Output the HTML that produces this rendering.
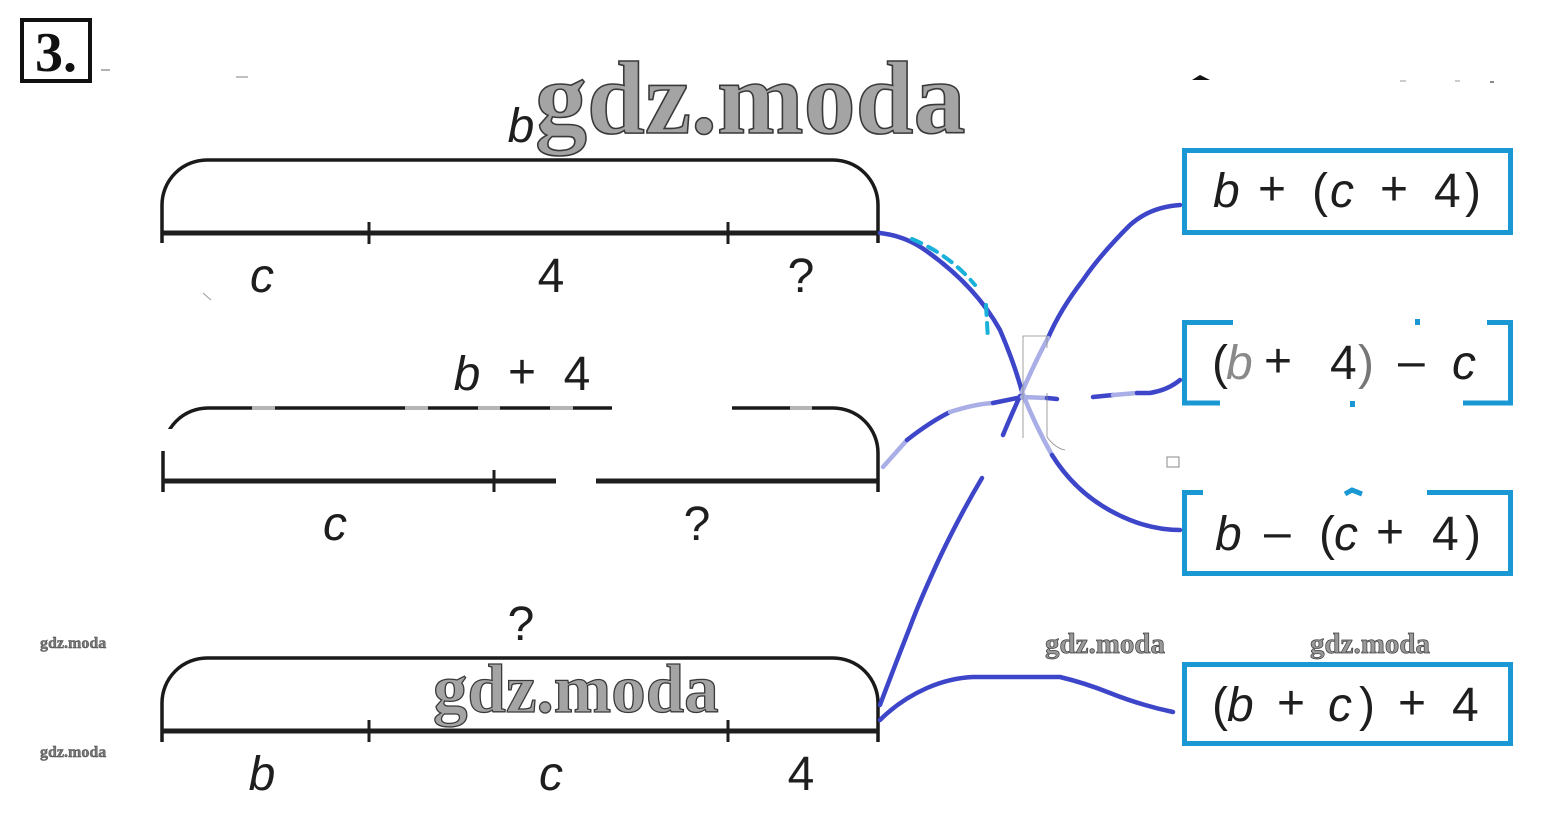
<!DOCTYPE html>
<html>
<head>
<meta charset="utf-8">
<style>
  html, body { margin: 0; padding: 0; background: #ffffff; }
  body { width: 1546px; height: 839px; overflow: hidden; }
  svg { display: block; }
  .lbl { font-family: "Liberation Sans", sans-serif; font-size: 48px; fill: #1e1e1e; }
  .it { font-style: italic; }
  .wm { font-family: "Liberation Serif", serif; font-weight: bold; fill: #a4a4a4; stroke: #3a3a3a; }
</style>
</head>
<body>
<svg width="1546" height="839" viewBox="0 0 1546 839" xmlns="http://www.w3.org/2000/svg">
  <rect x="0" y="0" width="1546" height="839" fill="#ffffff"/>

  <!-- "3." box -->
  <rect x="22" y="20" width="68" height="61" fill="none" stroke="#111" stroke-width="4"/>
  <text x="56" y="71" text-anchor="middle" font-family="Liberation Serif, serif" font-weight="bold" font-size="56" fill="#111">3.</text>

  <!-- small artifacts -->
  <line x1="101" y1="70" x2="110" y2="70" stroke="#999" stroke-width="1.5"/>
  <line x1="236" y1="77" x2="248" y2="77" stroke="#aaa" stroke-width="1.5"/>
  <path d="M1192,80 L1200,75 L1210,80 Z" fill="#111"/>
  <line x1="1400" y1="81" x2="1406" y2="81" stroke="#bbb" stroke-width="1.5"/>
  <line x1="1455" y1="81" x2="1460" y2="81" stroke="#bbb" stroke-width="1.5"/>
  <line x1="1490" y1="82" x2="1494" y2="82" stroke="#888" stroke-width="2"/>
  <line x1="203" y1="293" x2="211" y2="300" stroke="#999" stroke-width="1"/>
  <rect x="1167" y="457" width="12" height="10" fill="none" stroke="#888" stroke-width="1"/>

  <!-- ============ TOP DIAGRAM ============ -->
  <path d="M162,243 L162,205 A45,45 0 0 1 207,160 L833,160 A45,45 0 0 1 878,205 L878,243" fill="none" stroke="#1a1a1a" stroke-width="3.5"/>
  <line x1="162" y1="233" x2="878" y2="233" stroke="#1e1e1e" stroke-width="5"/>
  <line x1="369" y1="222" x2="369" y2="244" stroke="#1e1e1e" stroke-width="3"/>
  <line x1="728" y1="222" x2="728" y2="244" stroke="#1e1e1e" stroke-width="3"/>
  <text class="lbl it" x="521" y="142" text-anchor="middle">b</text>
  <text class="lbl it" x="262" y="292" text-anchor="middle">c</text>
  <text class="lbl" x="551" y="292" text-anchor="middle">4</text>
  <text class="lbl" x="801" y="292" text-anchor="middle">?</text>

  <!-- ============ MIDDLE DIAGRAM ============ -->
  <path d="M163,492 L163,453 A45,45 0 0 1 208,408 L833,408 A45,45 0 0 1 878,453 L878,492" fill="none" stroke="#1a1a1a" stroke-width="3.5"/>
  <line x1="162" y1="481" x2="878" y2="481" stroke="#1e1e1e" stroke-width="5"/>
  <line x1="494" y1="470" x2="494" y2="492" stroke="#1e1e1e" stroke-width="3"/>
  <!-- erasures -->
  <rect x="150" y="429" width="24" height="22" fill="#fff"/>
  <rect x="612" y="403" width="120" height="10" fill="#fff"/>
  <rect x="556" y="476" width="40" height="11" fill="#fff"/>
  <!-- greyed segments -->
  <line x1="252" y1="408" x2="275" y2="408" stroke="#b5b5b5" stroke-width="4"/>
  <line x1="405" y1="408" x2="428" y2="408" stroke="#b5b5b5" stroke-width="4"/>
  <line x1="478" y1="408" x2="500" y2="408" stroke="#b5b5b5" stroke-width="4"/>
  <line x1="550" y1="408" x2="573" y2="408" stroke="#b5b5b5" stroke-width="4"/>
  <line x1="790" y1="408" x2="812" y2="408" stroke="#b5b5b5" stroke-width="4"/>
  <text class="lbl it" x="467" y="390" text-anchor="middle">b</text>
  <text class="lbl" x="522" y="388" text-anchor="middle">+</text>
  <text class="lbl" x="577" y="390" text-anchor="middle">4</text>
  <text class="lbl it" x="335" y="540" text-anchor="middle">c</text>
  <text class="lbl" x="697" y="540" text-anchor="middle">?</text>

  <!-- ============ BOTTOM DIAGRAM ============ -->
  <path d="M162,742 L162,703 A45,45 0 0 1 207,658 L833,658 A45,45 0 0 1 878,703 L878,742" fill="none" stroke="#1a1a1a" stroke-width="3.5"/>
  <line x1="162" y1="731" x2="878" y2="731" stroke="#1e1e1e" stroke-width="5"/>
  <line x1="369" y1="720" x2="369" y2="742" stroke="#1e1e1e" stroke-width="3"/>
  <line x1="728" y1="720" x2="728" y2="742" stroke="#1e1e1e" stroke-width="3"/>
  <text class="lbl" x="521" y="640" text-anchor="middle">?</text>
  <text class="lbl it" x="262" y="790" text-anchor="middle">b</text>
  <text class="lbl it" x="551" y="790" text-anchor="middle">c</text>
  <text class="lbl" x="801" y="790" text-anchor="middle">4</text>

  <!-- ============ BOXES ============ -->
  <g fill="none" stroke="#1a98d4" stroke-width="5">
    <rect x="1184.5" y="150.5" width="326" height="82"/>
    <!-- box 2 partial -->
    <path d="M1233,322.5 L1184.5,322.5 L1184.5,403 L1220,403"/>
    <path d="M1487,322.5 L1510.5,322.5 L1510.5,403 L1463,403"/>
    <!-- box 3 partial top -->
    <path d="M1203,492.5 L1184.5,492.5 L1184.5,573.5 L1510.5,573.5 L1510.5,492.5 L1427,492.5"/>
    <path d="M1345,494 L1352,490 L1362,494"/>
    <!-- box 4 -->
    <rect x="1184.5" y="664.5" width="326" height="79"/>
  </g>
  <rect x="1415" y="319" width="5" height="6" fill="#1a98d4"/>
  <rect x="1350" y="401" width="5" height="6" fill="#1a98d4"/>

  <!-- box texts -->
  <g class="lbl">
    <text x="1213" y="207" class="lbl it">b</text>
    <text x="1258" y="205" class="lbl">+</text>
    <text x="1312" y="207" class="lbl">(</text>
    <text x="1330" y="207" class="lbl it">c</text>
    <text x="1380" y="205" class="lbl">+</text>
    <text x="1434" y="207" class="lbl">4</text>
    <text x="1465" y="207" class="lbl">)</text>

    <text x="1212" y="379" class="lbl">(</text>
    <text x="1226" y="379" class="lbl it" style="fill:#8a8a8a">b</text>
    <text x="1264" y="377" class="lbl">+</text>
    <text x="1330" y="379" class="lbl">4</text>
    <text x="1358" y="379" class="lbl" style="fill:#777">)</text>
    <text x="1398" y="377" class="lbl">–</text>
    <text x="1452" y="379" class="lbl it">c</text>

    <text x="1215" y="550" class="lbl it">b</text>
    <text x="1264" y="548" class="lbl">–</text>
    <text x="1319" y="550" class="lbl">(</text>
    <text x="1334" y="550" class="lbl it">c</text>
    <text x="1376" y="548" class="lbl">+</text>
    <text x="1432" y="550" class="lbl">4</text>
    <text x="1465" y="550" class="lbl">)</text>

    <text x="1212" y="721" class="lbl">(</text>
    <text x="1227" y="721" class="lbl it">b</text>
    <text x="1277" y="719" class="lbl">+</text>
    <text x="1328" y="721" class="lbl it">c</text>
    <text x="1359" y="721" class="lbl">)</text>
    <text x="1398" y="719" class="lbl">+</text>
    <text x="1452" y="721" class="lbl">4</text>
  </g>

  <!-- ============ CONNECTORS ============ -->
  <g fill="none" stroke-linecap="round" stroke-width="4.5">
    <!-- top -> box3 -->
    <path d="M880,233 Q905,236 925,250 Q975,285 1000,330 Q1015,365 1022,392" stroke="#3d45c9"/>
    <path d="M1022,392 Q1035,425 1052,455" stroke="#a9aee6"/>
    <path d="M1052,455 Q1080,500 1130,520 Q1155,530 1180,530" stroke="#3d45c9"/>
    <!-- dashed cyan -->
    <path d="M912,239 Q950,255 975,285" stroke="#19b0da" stroke-width="4" stroke-dasharray="10,8"/>
    <path d="M986,305 L988,340" stroke="#19b0da" stroke-width="4" stroke-dasharray="10,8"/>

    <!-- box1 -> bottom -->
    <path d="M1180,205 Q1150,207 1130,225 Q1100,255 1083,280 Q1060,310 1048,338" stroke="#3d45c9"/>
    <path d="M1048,338 Q1035,362 1022,392" stroke="#a9aee6"/>
    <path d="M1020,396 Q1010,418 1003,435" stroke="#3d45c9"/>
    <path d="M982,478 Q960,515 940,557 Q920,600 910,627 Q895,665 880,705" stroke="#3d45c9"/>

    <!-- middle -> box2 -->
    <path d="M883,467 L907,440" stroke="#a9aee6"/>
    <path d="M907,440 Q930,422 950,412" stroke="#3d45c9"/>
    <path d="M950,412 Q975,404 993,403" stroke="#a9aee6"/>
    <path d="M993,403 L1022,397" stroke="#3d45c9"/>
    <path d="M1022,397 L1047,398" stroke="#a9aee6"/>
    <path d="M1047,398 L1057,399" stroke="#3d45c9"/>
    <path d="M1093,397 L1113,395" stroke="#3d45c9"/>
    <path d="M1113,395 L1137,393" stroke="#a9aee6"/>
    <path d="M1137,393 L1150,393 Q1168,390 1180,380" stroke="#3d45c9"/>

    <!-- bottom -> box4 -->
    <path d="M880,720 Q900,700 927,688 Q950,678 973,677 L1060,677 Q1085,683 1110,693 Q1140,705 1173,712" stroke="#3d45c9"/>
  </g>

  <!-- faint thin artifact lines near crossing -->
  <g stroke="#8a8a8a" stroke-width="0.8" fill="none">
    <path d="M1023,438 L1023,336 L1047,336 L1047,348"/>
    <path d="M1047,393 L1047,437"/>
    <path d="M1047,437 Q1055,448 1065,450"/>
  </g>

  <!-- ============ WATERMARKS ============ -->
  <text class="wm" x="535" y="133" font-size="104" stroke-width="1.6">gdz.moda</text>
  <text class="wm" x="433" y="712" font-size="69" stroke-width="1.3">gdz.moda</text>
  <text class="wm" x="40" y="648" font-size="16" stroke-width="0.4" style="fill:#777">gdz.moda</text>
  <text class="wm" x="40" y="757" font-size="16" stroke-width="0.4" style="fill:#777">gdz.moda</text>
  <text class="wm" x="1045" y="653" font-size="29" stroke-width="0.7" style="fill:#999">gdz.moda</text>
  <text class="wm" x="1310" y="653" font-size="29" stroke-width="0.7" style="fill:#999">gdz.moda</text>
</svg>
</body>
</html>
